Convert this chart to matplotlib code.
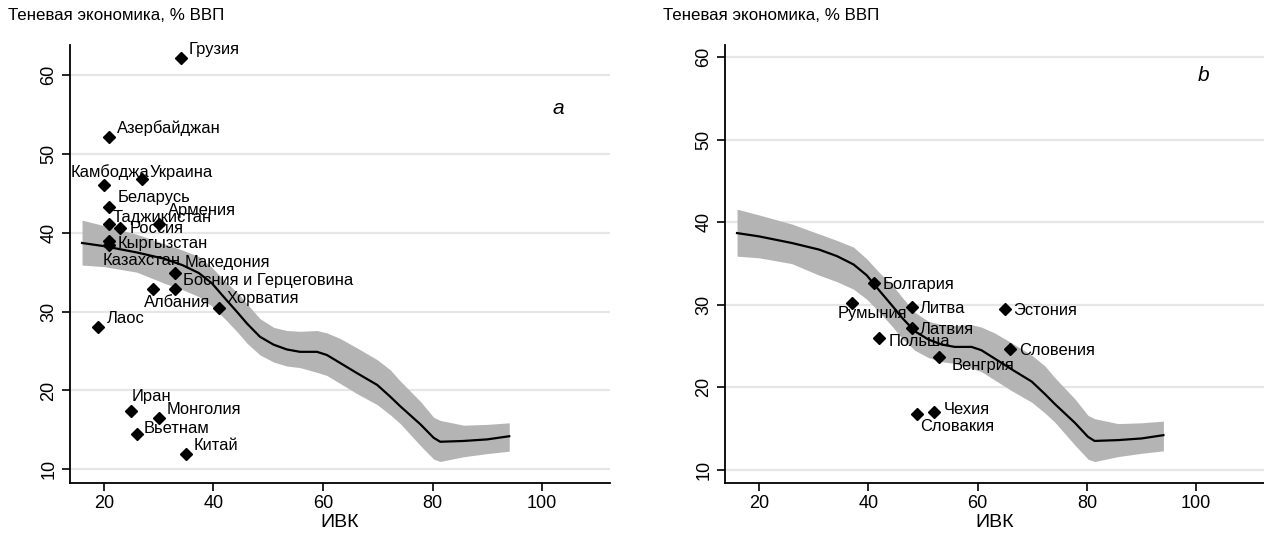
import matplotlib
matplotlib.use("Agg")
import matplotlib.pyplot as plt

plt.rcParams['font.family'] = ['Liberation Sans', 'DejaVu Sans']

# ---- data ----
curve_x = [16, 20, 26, 31, 34.3, 37.3, 39.7, 42.2, 44.5, 46.1, 48.5, 51, 53.4, 55.8, 58.9,
           60.7, 63.1, 66.2, 69.9, 72.3, 74.1, 77.8, 80.2, 81.4, 85.7, 90, 94]
curve_y = [38.7, 38.3, 37.5, 36.7, 35.9, 34.9, 33.6, 31.6, 29.8, 28.5, 26.8, 25.8, 25.2, 24.9, 24.9,
           24.5, 23.5, 22.2, 20.7, 19.2, 18.0, 15.7, 14.0, 13.5, 13.6, 13.8, 14.2]
band_lo = [35.9, 35.7, 35.0, 33.6, 32.8, 31.9, 30.7, 29.0, 27.3, 26.0, 24.5, 23.6, 23.1, 22.9, 22.3,
           21.9, 20.9, 19.6, 18.2, 16.9, 15.8, 13.0, 11.3, 11.0, 11.6, 12.0, 12.3]
band_hi = [41.6, 40.9, 39.8, 38.6, 37.8, 37.0, 35.6, 33.8, 32.3, 31.0, 29.1, 28.0, 27.6, 27.5, 27.6,
           27.3, 26.6, 25.4, 23.9, 22.6, 21.2, 18.6, 16.6, 16.2, 15.6, 15.7, 15.9]

a_names = ["Грузия", "Азербайджан", "Камбоджа", "Украина", "Беларусь", "Таджикистан",
           "Армения", "Россия", "Кыргызстан", "Казахстан", "Македония",
           "Босния и Герцеговина", "Албания", "Хорватия", "Лаос", "Иран",
           "Монголия", "Вьетнам", "Китай"]
a_x = [34, 21, 20, 27, 21, 21, 30, 23, 21, 21, 33, 33, 29, 41, 19, 25, 30, 26, 35]
a_y = [62.1, 52.1, 46.1, 46.8, 43.3, 41.1, 41.1, 40.6, 38.9, 38.4, 34.9, 32.9, 32.9, 30.4, 28.0, 17.4, 16.5, 14.5, 12.0]

b_names = ["Болгария", "Румыния", "Литва", "Эстония", "Латвия", "Польша",
           "Словения", "Венгрия", "Чехия", "Словакия"]
b_x = [41, 37, 48, 65, 48, 42, 66, 53, 52, 49]
b_y = [32.7, 30.2, 29.7, 29.5, 27.2, 26.0, 24.6, 23.7, 17.0, 16.8]

xticks = [20, 40, 60, 80, 100]
yticks = [10, 20, 30, 40, 50, 60]
ylabel_text = "Теневая экономика, % ВВП"
xlabel_text = "ИВК"

# ---- label placement (pixel offsets, layout only) ----
a_off = {"Грузия": (8, 4), "Азербайджан": (8, 4), "Камбоджа": (-33, 8), "Украина": (7, 2),
         "Беларусь": (8, 5), "Таджикистан": (3, 2), "Армения": (9, 9), "Россия": (9, -5),
         "Кыргызстан": (8, -7), "Казахстан": (-7, -20), "Македония": (9, 6),
         "Босния и Герцеговина": (8, 4), "Албания": (-9, -18), "Хорватия": (8, 5),
         "Лаос": (8, 4), "Иран": (0, 10), "Монголия": (8, 4), "Вьетнам": (7, 1), "Китай": (8, 4)}
b_off = {"Болгария": (9, -6), "Румыния": (-14, -15), "Литва": (8, -6), "Эстония": (8, -6),
         "Латвия": (8, -6), "Польша": (9, -8), "Словения": (9, -6), "Венгрия": (12, -13),
         "Чехия": (10, -2), "Словакия": (3, -17)}

W, H = 1264, 536
fig = plt.figure(figsize=(W / 100, H / 100), dpi=100)
fig.patch.set_facecolor('white')


def panel(left_px, width_px, ylim, names, xs, ys, offs, letter, letter_pos):
    ax = fig.add_axes([left_px / W, (H - 483) / H, width_px / W, 438 / H])
    ax.set_xlim(13.8, 112.4)
    ax.set_ylim(*ylim)
    for yt in yticks:
        ax.axhline(yt, color='#e6e6e6', lw=1.6, zorder=0)
    ax.fill_between(curve_x, band_lo, band_hi, color='#b4b4b4', lw=0, zorder=1)
    ax.plot(curve_x, curve_y, color='black', lw=1.6, zorder=2, solid_joinstyle='round')
    ax.plot(xs, ys, linestyle='none', marker='D', ms=6.2, color='black', zorder=3)
    for n, x, y in zip(names, xs, ys):
        dx, dy = offs[n]
        ax.annotate(n, (x, y), xytext=(dx, dy), textcoords='offset pixels',
                    ha='left', va='baseline', fontsize=11.9, zorder=4)
    ax.text(letter_pos[0], letter_pos[1], letter, fontsize=15, style='italic', ha='center', va='center')
    for s in ['top', 'right']:
        ax.spines[s].set_visible(False)
    for s in ['left', 'bottom']:
        ax.spines[s].set_linewidth(1.3)
    ax.set_xticks(xticks)
    ax.set_yticks(yticks)
    ax.tick_params(axis='both', length=6, width=1.2, labelsize=13, pad=3)
    for t in ax.get_yticklabels():
        t.set_rotation(90)
        t.set_va('center')
    ax.set_xlabel(xlabel_text, fontsize=14, labelpad=1)
    fig.text((left_px - 62) / W, 1 - 20 / H, ylabel_text, fontsize=12.2, ha='left', va='baseline')
    return ax


panel(70, 540, (8.27, 63.8), a_names, a_x, a_y, a_off, "a", (103, 55.8))
panel(725, 539, (8.4, 61.5), b_names, b_x, b_y, b_off, "b", (101.4, 57.8))

fig.savefig("out.png", dpi=100, facecolor='white')
